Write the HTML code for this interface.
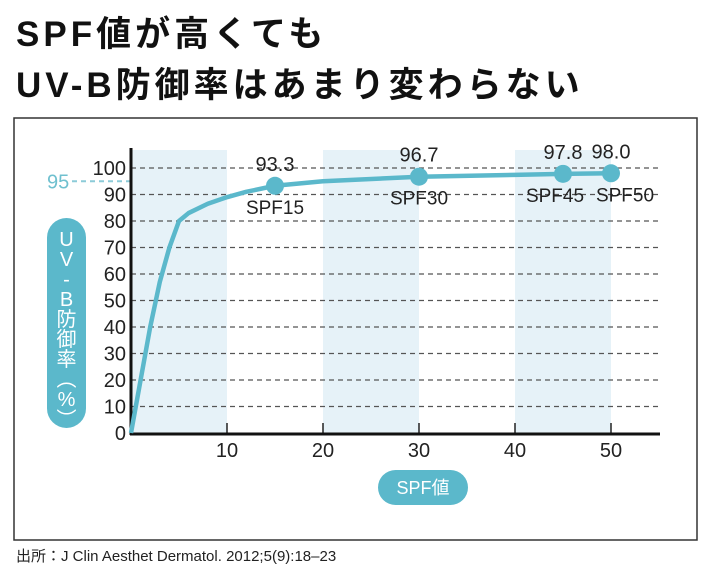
<!DOCTYPE html>
<html><head><meta charset="utf-8"><style>
body{margin:0;width:710px;height:575px;background:#fff;font-family:"Liberation Sans","Noto Sans CJK JP",sans-serif;overflow:hidden}
.t{position:absolute;left:16px;font-weight:bold;font-size:35px;color:#111;letter-spacing:4px}
</style></head><body>
<div class="t" style="top:6px">SPF値が高くても</div>
<div class="t" style="top:57px">UV-B防御率はあまり変わらない</div>
<svg id="c" width="710" height="575" style="position:absolute;left:0;top:0"></svg>
<div style="position:absolute;left:16px;top:545px;font-size:15px;color:#222">出所：J Clin Aesthet Dermatol. 2012;5(9):18–23</div>
<script>
const yTicks=[0,10,20,30,40,50,60,70,80,90,100];
const xTicks=[10,20,30,40,50];
const bands=[[0,10],[20,30],[40,50]];
const curveX=[0,1,2,3,4,5,6,8,10,12,15,20,30,40,45,50];
const curveY=[0,20,40,57,70,80,83,86.5,89,91,93.3,95,96.7,97.4,97.8,98];
const ptX=[15,30,45,50];
const ptY=[93.3,96.7,97.8,98.0];
const ptLabels=["SPF15","SPF30","SPF45","SPF50"];
const ref=95;
const svg=document.getElementById('c');const NS='http://www.w3.org/2000/svg';
const X=v=>131+v*9.6, Y=v=>433-v*2.65;
function mk(t,a,txt){const e=document.createElementNS(NS,t);for(const k in a)e.setAttribute(k,a[k]);if(txt!=null)e.textContent=txt;svg.appendChild(e);return e;}
let e=mk('rect',{x:14,y:118,width:683,height:422,fill:'none',stroke:'#333','stroke-width':1.5});

bands.forEach(b=>{e=mk('rect',{x:X(b[0]),y:150,width:X(b[1])-X(b[0]),height:433-150,fill:'#e6f2f8'});
});
yTicks.forEach(v=>{if(v>0){e=mk('line',{x1:131,x2:660,y1:Y(v),y2:Y(v),stroke:'#555','stroke-width':1.2,'stroke-dasharray':'5 4'});
}
e=mk('text',{x:126,y:Y(v)+7,'text-anchor':'end','font-size':20,fill:'#222'},v);
});
e=mk('line',{x1:72,x2:131,y1:Y(ref),y2:Y(ref),stroke:'#8ccbd8','stroke-width':2,'stroke-dasharray':'5 4'});

e=mk('text',{x:47,y:Y(ref)+7,'font-size':20,fill:'#6fc0cf'},ref);

xTicks.forEach(v=>{e=mk('line',{x1:X(v),x2:X(v),y1:423,y2:433,stroke:'#222','stroke-width':1.5});

e=mk('text',{x:X(v),y:457,'text-anchor':'middle','font-size':20,fill:'#222'},v);
});
e=mk('line',{x1:131,x2:131,y1:148,y2:435,stroke:'#111','stroke-width':3});

e=mk('line',{x1:130,x2:660,y1:434,y2:434,stroke:'#111','stroke-width':3});

e=mk('polyline',{points:curveX.map((v,i)=>X(v)+','+Y(curveY[i])).join(' '),fill:'none',stroke:'#5bb8cb','stroke-width':4.5,'stroke-linejoin':'round'});

ptX.forEach((v,i)=>{e=mk('circle',{cx:X(v),cy:Y(ptY[i]),r:9,fill:'#5bb8cb'});

e=mk('text',{x:X(v),y:Y(ptY[i])-15,'text-anchor':'middle','font-size':20,fill:'#222'},ptY[i].toFixed(1));

const dx=i==2?-8:(i==3?14:0);
e=mk('text',{x:X(v)+dx,y:Y(ptY[i])+28,'text-anchor':'middle','font-size':19,fill:'#222'},ptLabels[i]);
});
e=mk('rect',{x:47,y:218,width:39,height:210,rx:19.5,fill:'#5bb8cb'});

['U','V','-','B','防','御','率','︵','%','︶'].forEach((c,i)=>{e=mk('text',{x:66.5,y:246+i*20,'text-anchor':'middle','font-size':20,fill:'#fff'},c);
});
e=mk('rect',{x:378,y:470,width:90,height:35,rx:17.5,fill:'#5bb8cb'});

e=mk('text',{x:423,y:494,'text-anchor':'middle','font-size':18,fill:'#fff'},'SPF値');

</script>
</body></html>
